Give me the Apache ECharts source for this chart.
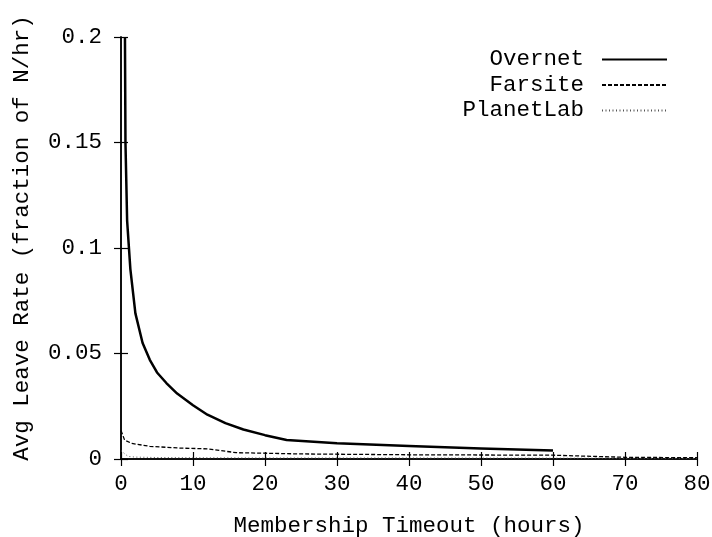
<!DOCTYPE html>
<html>
<head>
<meta charset="utf-8">
<script src="https://cdn.jsdelivr.net/npm/echarts@6/dist/echarts.min.js"></script>
<style>
  html, body { margin: 0; padding: 0; background: #fff; }
  #chart { width: 712px; height: 537px; }
</style>
</head>
<body>
<div id="chart"></div>
<script>
// Average leave rate vs. membership timeout for three traces
const seriesNames = ['Overnet', 'Farsite', 'PlanetLab'];

const overnetX = [0.55, 0.62, 0.85, 1.3, 2, 3, 4, 5, 6.3, 7.8, 10, 12, 14.5, 17, 20, 23, 30, 40, 50, 60];
const overnetY = [0.2, 0.15, 0.113, 0.09, 0.069, 0.055, 0.047, 0.041, 0.036, 0.031, 0.0255, 0.021, 0.017, 0.014, 0.0113, 0.009, 0.0075, 0.0062, 0.005, 0.004];

const farsiteX = [0, 0.5, 1.5, 4, 8, 12, 16, 25, 40, 60, 70, 80];
const farsiteY = [0.0135, 0.009, 0.0074, 0.006, 0.0052, 0.0048, 0.003, 0.0024, 0.002, 0.0018, 0.0008, 0.0006];

const planetlabX = [0, 0.5, 1, 2, 5, 10, 20, 40, 60, 80];
const planetlabY = [0.004, 0.0025, 0.0012, 0.0009, 0.0007, 0.0006, 0.0005, 0.0005, 0.0004, 0.0003];

const xTickLabels = ['0', '10', '20', '30', '40', '50', '60', '70', '80'];
const yTickLabels = ['0', '0.05', '0.1', '0.15', '0.2'];

const FONT = 'Liberation Mono';
const FS = 22.5;

function pairs(xs, ys) {
  return xs.map((x, i) => [x, ys[i]]);
}

const frameLine = { show: true, lineStyle: { color: '#000', width: 1.5 } };
const innerTick = { show: true, inside: true, length: 7, lineStyle: { color: '#000', width: 1.2 } };

const chart = echarts.init(document.getElementById('chart'), null, { renderer: 'canvas' });

chart.setOption({
  animation: false,
  backgroundColor: '#fff',
  grid: { left: 121, right: 15, top: 37, bottom: 78, containLabel: false, outerBoundsMode: 'none' },
  legend: {
    orient: 'vertical',
    right: 39,
    top: 43,
    align: 'right',
    itemWidth: 65,
    itemHeight: 22,
    itemGap: 2.5,
    data: seriesNames,
    itemStyle: { opacity: 0 },
    textStyle: { fontFamily: FONT, fontSize: FS, color: '#000', padding: [0, 13, 0, 0] }
  },
  xAxis: [
    {
      type: 'value', min: 0, max: 80, interval: 10, position: 'bottom',
      name: 'Membership Timeout (hours)', nameLocation: 'middle', nameGap: 56,
      nameTextStyle: { fontFamily: FONT, fontSize: FS, color: '#000' },
      axisLine: frameLine, axisTick: innerTick, splitLine: { show: false },
      axisLabel: {
        margin: 14, fontFamily: FONT, fontSize: FS, color: '#000',
        formatter: (v) => xTickLabels[Math.round(v / 10)] ?? ''
      }
    },
    {
      type: 'value', min: 0, max: 80, interval: 10, position: 'top',
      axisLine: frameLine, axisTick: innerTick, splitLine: { show: false },
      axisLabel: { show: false }
    }
  ],
  yAxis: [
    {
      type: 'value', min: 0, max: 0.2, interval: 0.05, position: 'left',
      name: 'Avg Leave Rate (fraction of N/hr)', nameLocation: 'middle', nameGap: 87,
      nameTextStyle: { fontFamily: FONT, fontSize: FS, color: '#000', padding: [0, 0, 0, 20] },
      axisLine: frameLine, axisTick: innerTick, splitLine: { show: false },
      axisLabel: {
        margin: 19, fontFamily: FONT, fontSize: FS, color: '#000',
        formatter: (v) => yTickLabels[Math.round(v / 0.05)] ?? ''
      }
    },
    {
      type: 'value', min: 0, max: 0.2, interval: 0.05, position: 'right',
      axisLine: frameLine, axisTick: innerTick, splitLine: { show: false },
      axisLabel: { show: false }
    }
  ],
  series: [
    {
      name: seriesNames[0], type: 'line', xAxisIndex: 0, yAxisIndex: 0,
      data: pairs(overnetX, overnetY), symbol: 'none', showSymbol: false,
      clip: true,
      lineStyle: { color: '#000', width: 2.5, type: 'solid', join: 'round' },
      itemStyle: { color: '#000' }
    },
    {
      name: seriesNames[1], type: 'line', xAxisIndex: 0, yAxisIndex: 0,
      data: pairs(farsiteX, farsiteY), symbol: 'none', showSymbol: false,
      clip: true,
      lineStyle: { color: '#000', width: 1.3, type: [4, 2] },
      itemStyle: { color: '#000' }
    },
    {
      name: seriesNames[2], type: 'line', xAxisIndex: 0, yAxisIndex: 0,
      data: pairs(planetlabX, planetlabY), symbol: 'none', showSymbol: false,
      clip: true,
      lineStyle: { color: '#555', width: 1, type: [1, 2.5] },
      itemStyle: { color: '#555' }
    }
  ]
});
</script>
</body>
</html>
